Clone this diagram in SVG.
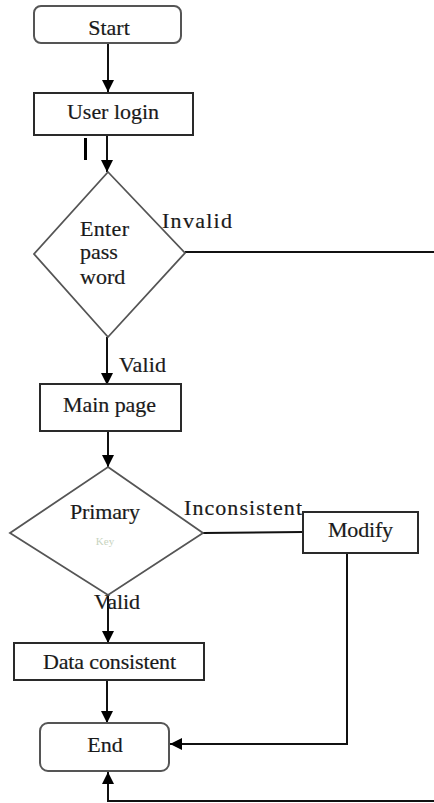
<svg xmlns="http://www.w3.org/2000/svg" width="434" height="803" viewBox="0 0 434 803">
<style>
.bg{fill:#fff}
.box{fill:#fff;stroke:#2a2a2a;stroke-width:2}
.term{fill:#fff;stroke:#555;stroke-width:2}
.dia{fill:#fff;stroke:#555;stroke-width:1.8}
.t{font-family:"Liberation Serif","Times New Roman",serif;font-size:22px;fill:#1a1a1a;stroke:#1a1a1a;stroke-width:0.2}
.c{text-anchor:middle}
.ln{fill:none;stroke:#111;stroke-width:2}
</style>
<defs>
<marker id="ah" viewBox="0 0 12 12" refX="12" refY="6" markerWidth="12" markerHeight="12" markerUnits="userSpaceOnUse" orient="auto">
<path d="M0,0 L12,6 L0,12 Z" fill="#000"/>
</marker>
</defs>
<rect class="bg" x="0" y="0" width="434" height="803"/>
<g id="connectors">
<line class="ln" x1="108" y1="44" x2="108" y2="92" marker-end="url(#ah)"/>
<line class="ln" x1="107" y1="135" x2="107" y2="172" marker-end="url(#ah)"/>
<line class="ln" x1="185" y1="252" x2="434" y2="252"/>
<line class="ln" x1="107" y1="337" x2="107" y2="385" marker-end="url(#ah)"/>
<line class="ln" x1="108" y1="431" x2="108" y2="467" marker-end="url(#ah)"/>
<line class="ln" x1="203" y1="533" x2="303" y2="532"/>
<line class="ln" x1="108" y1="595" x2="108" y2="643" marker-end="url(#ah)"/>
<line class="ln" x1="107" y1="680" x2="107" y2="723" marker-end="url(#ah)"/>
<polyline class="ln" points="347,553 347,744 170,744" marker-end="url(#ah)"/>
<polyline class="ln" points="434,801 108,801 108,772" marker-end="url(#ah)"/>
<rect x="84" y="138" width="3" height="22" fill="#000"/>
<text class="t" x="162" y="228" textLength="70">Invalid</text>
<text class="t" x="119" y="372" textLength="47">Valid</text>
<text class="t" x="184" y="515" textLength="118">Inconsistent</text>
<text class="t" x="94" y="609" textLength="46">Valid</text>
</g>
<g id="start">
<rect class="term" x="34" y="6" width="147" height="37" rx="7"/>
<text class="t c" x="109" y="35">Start</text>
</g>
<g id="user-login">
<rect class="box" x="34" y="93" width="159" height="42"/>
<text class="t" x="67" y="119" textLength="92">User login</text>
</g>
<g id="enter-password">
<polygon class="dia" points="108,172 185,253 108,337 34,254"/>
<text class="t" x="80" y="236" textLength="49">Enter</text>
<text class="t" x="80" y="259">pass</text>
<text class="t" x="80" y="284">word</text>
</g>
<g id="main-page">
<rect class="box" x="40" y="384" width="141" height="47"/>
<text class="t" x="63" y="412" textLength="93">Main page</text>
</g>
<g id="primary">
<polygon class="dia" points="108,467 203,533 108,595 10,533"/>
<text class="t" x="70" y="519" textLength="70">Primary</text>
<text x="105" y="545" text-anchor="middle" font-family="Liberation Serif, serif" font-size="11" fill="#c8d4c0">Key</text>
</g>
<g id="modify">
<rect class="box" x="303" y="512" width="115" height="41"/>
<text class="t" x="328" y="537" textLength="65">Modify</text>
</g>
<g id="data-consistent">
<rect class="box" x="14" y="643" width="190" height="37"/>
<text class="t" x="43" y="669" textLength="133">Data consistent</text>
</g>
<g id="end">
<rect class="term" x="40" y="723" width="129" height="48" rx="8"/>
<text class="t c" x="105" y="752">End</text>
</g>
</svg>
